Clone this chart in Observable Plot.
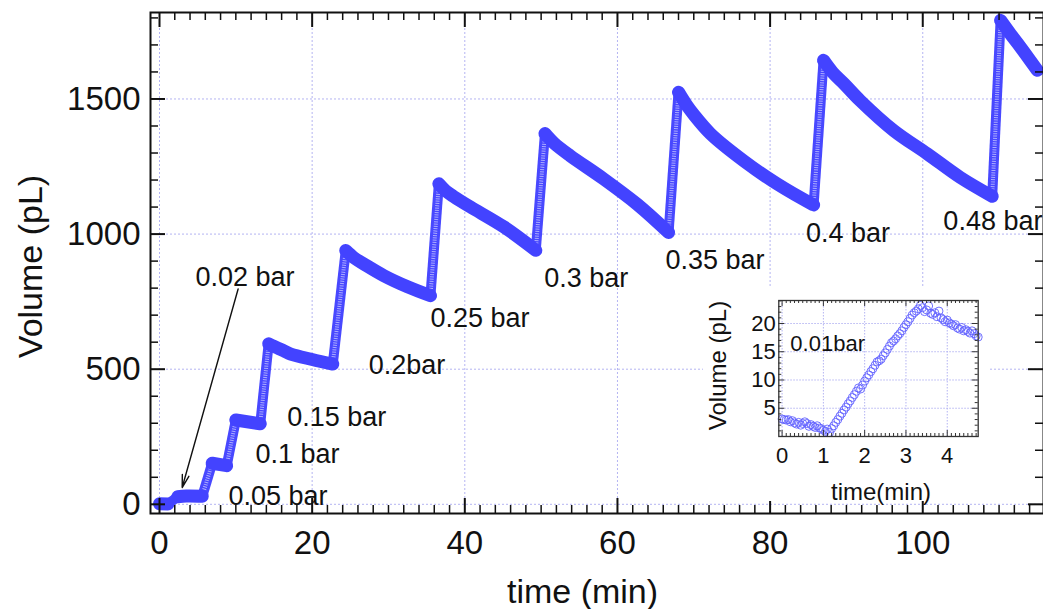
<!DOCTYPE html>
<html><head><meta charset="utf-8">
<script src="https://cdn.jsdelivr.net/npm/d3@7"></script>
<script src="https://cdn.jsdelivr.net/npm/@observablehq/plot@0.6"></script>
<style>
body{margin:0;background:#fff;}
#wrap{position:relative;width:1043px;height:609px;overflow:hidden;font-family:"Liberation Sans",Arial,sans-serif;}
#main{position:absolute;left:0;top:0;}
#inset{position:absolute;left:703px;top:288px;}
</style></head><body><div id="wrap"><div id="main"></div><div id="inset"></div></div>
<script>
// ---------- main series: one sub-array per pressure step ----------
const segTime = [
  [0, 1.1],
  [2.4, 3.5, 5.6],
  [6.9, 8.8],
  [10.0, 13.2],
  [14.3, 15.5, 16.3, 17.2, 20.0, 22.7],
  [24.4, 25.5, 26.8, 29.4, 32.5, 35.5],
  [36.6, 37.5, 38.6, 40.7, 45.1, 49.3],
  [50.5, 51.7, 53.8, 58.2, 62.6, 66.7],
  [68.0, 69.0, 70.0, 72.2, 76.5, 80.9, 85.7],
  [87.0, 88.2, 89.7, 91.8, 96.2, 100.6, 104.9, 109.1],
  [110.2, 111.5, 112.8, 115.0]
];
const segVolume = [
  [2, 1],
  [28, 31, 30],
  [152, 143],
  [312, 298],
  [594, 578, 568, 556, 536, 519],
  [939, 912, 889, 846, 805, 772],
  [1186, 1160, 1138, 1101, 1027, 940],
  [1372, 1336, 1290, 1204, 1110, 1006],
  [1525, 1480, 1442, 1371, 1272, 1186, 1108],
  [1643, 1598, 1556, 1494, 1383, 1297, 1210, 1140],
  [1791, 1740, 1692, 1606]
];

// ---------- annotations ----------
const labelText = ["0.02 bar", "0.05 bar", "0.1 bar", "0.15 bar", "0.2bar", "0.25 bar", "0.3 bar", "0.35 bar", "0.4 bar", "0.48 bar"];
const labelTime = [4.72, 9.04, 12.58, 16.73, 27.42, 35.5, 50.4, 66.3, 84.7, 102.7];
const labelVolume = [809, -2, 154, 290, 482, 657, 805, 870, 970, 1015];
const arrowFrom = [10.3, 797];
const arrowTo = [2.97, 62];

// ---------- main axes ----------
const xTickLabels = [0, 20, 40, 60, 80, 100];
const yTickLabels = [0, 500, 1000, 1500];

// ---------- inset (0.01 bar) ----------
const insetTime = [0,0.05,0.1,0.15,0.2,0.25,0.3,0.35,0.4,0.45,0.5,0.55,0.6,0.65,0.7,0.75,0.8,0.85,0.9,0.95,
  1.0,1.05,1.1,1.15,1.2,1.25,1.3,1.35,1.4,1.45,1.5,1.55,1.6,1.65,1.7,1.75,1.8,1.85,1.9,1.95,
  2.0,2.05,2.1,2.15,2.2,2.25,2.3,2.35,2.4,2.45,2.5,2.55,2.6,2.65,2.7,2.75,2.8,2.85,2.9,2.95,
  3.0,3.05,3.1,3.15,3.2,3.25,3.3,3.35,3.4,3.45,3.5,3.55,3.6,3.65,3.7,3.75,3.8,3.85,3.9,3.95,
  4.0,4.05,4.1,4.15,4.2,4.25,4.3,4.35,4.4,4.45,4.5,4.55,4.6,4.65,4.7,4.75];
const insetVolume = [3.1,3.0,2.9,3.0,2.6,2.8,2.4,2.2,2.5,2.0,2.3,2.6,2.3,1.8,2.1,1.8,1.6,1.9,1.5,1.4,
  1.1,0.9,1.3,0.7,1.4,1.9,2.5,3.0,3.6,4.1,4.7,5.2,5.8,6.3,6.9,7.4,8.0,8.6,8.4,9.1,
  9.8,10.4,10.9,11.5,12.0,12.6,13.2,13.4,13.7,14.3,14.8,15.4,16.0,16.6,16.9,17.3,17.8,18.2,18.7,19.3,
  19.8,20.3,20.9,21.5,21.9,22.2,22.6,23.2,22.8,22.1,22.4,23.1,21.8,21.6,21.9,21.2,22.2,21.0,20.7,20.3,
  20.6,20.1,19.9,19.6,19.8,19.2,19.0,19.3,18.7,18.9,18.6,18.3,18.7,18.2,17.8,17.6];
const insetXTicks = [0, 1, 2, 3, 4];
const insetYTicks = [5, 10, 15, 20];

// ================= build =================
const FONT = "'Liberation Sans', Arial, sans-serif";
const blue = "#4343ff";
const gridColor = "#b4b4f2";
const ink = "#111";

const mainRows = [];
const rises = [];
segTime.forEach((ts, i) => {
  ts.forEach((t, j) => mainRows.push({t, v: segVolume[i][j], seg: i}));
  if (i > 0) {
    const pt = segTime[i - 1], pv = segVolume[i - 1];
    rises.push({t1: pt[pt.length - 1], v1: pv[pv.length - 1], t2: ts[0], v2: segVolume[i][0]});
  }
});
const labels = labelText.map((s, i) => ({s, t: labelTime[i], v: labelVolume[i]}));

const W = 1043, H = 609, mL = 150, mT = 12, mR = 0, mB = 96;
const fw = W - mL - mR, fh = H - mT - mB;
const xMinor = d3.range(0, 116, 2).filter(d => d % 20 !== 0);
const yMinor = d3.range(0, 1801, 100).filter(d => d % 500 !== 0);

const main = Plot.plot({
  width: W, height: H, marginLeft: mL, marginTop: mT, marginRight: mR, marginBottom: mB,
  x: {domain: [-1.18, 115.82], axis: null},
  y: {domain: [-34, 1820], axis: null},
  style: {fontFamily: FONT, background: "transparent", overflow: "visible"},
  marks: [
    Plot.ruleX(xTickLabels, {x: d => d, stroke: gridColor, strokeDasharray: "2,2"}),
    Plot.ruleY(yTickLabels, {y: d => d, stroke: gridColor, strokeDasharray: "2,2"}),
    Plot.link(rises, {x1: "t1", y1: "v1", x2: "t2", y2: "v2", stroke: "#4848ff", strokeWidth: 10, strokeLinecap: "butt"}),
    Plot.link(rises, {x1: "t1", y1: "v1", x2: "t2", y2: "v2", stroke: "white", strokeOpacity: 0.55, strokeWidth: 4, strokeDasharray: "1,1.3", strokeLinecap: "butt"}),
    Plot.line(mainRows, {x: "t", y: "v", z: "seg", stroke: blue, strokeWidth: 13, curve: "catmull-rom", strokeLinecap: "round", strokeLinejoin: "round"}),
    Plot.frame({stroke: ink, strokeWidth: 2}),
    Plot.tickX(xTickLabels, {x: d => d, insetTop: fh - 15, stroke: ink, strokeWidth: 2}),
    Plot.tickX(xTickLabels, {x: d => d, insetBottom: fh - 15, stroke: ink, strokeWidth: 2}),
    Plot.tickX(xMinor, {x: d => d, insetTop: fh - 8, stroke: ink, strokeWidth: 1.5}),
    Plot.tickX(xMinor, {x: d => d, insetBottom: fh - 8, stroke: ink, strokeWidth: 1.5}),
    Plot.tickY(yTickLabels, {y: d => d, insetRight: fw - 15, stroke: ink, strokeWidth: 2}),
    Plot.tickY(yTickLabels, {y: d => d, insetLeft: fw - 15, stroke: ink, strokeWidth: 2}),
    Plot.tickY(yMinor, {y: d => d, insetRight: fw - 8, stroke: ink, strokeWidth: 1.5}),
    Plot.tickY(yMinor, {y: d => d, insetLeft: fw - 8, stroke: ink, strokeWidth: 1.5}),
    Plot.text(xTickLabels, {x: d => d, text: d => String(d), frameAnchor: "bottom", dy: 17, lineAnchor: "top", fontSize: 33, fill: ink}),
    Plot.text(yTickLabels, {y: d => d, text: d => String(d), frameAnchor: "left", dx: -10, textAnchor: "end", fontSize: 33, fill: ink}),
    Plot.text(labels, {x: "t", y: "v", text: "s", textAnchor: "start", lineAnchor: "bottom", fontSize: 27, fill: ink}),
    Plot.arrow([{a: arrowFrom, b: arrowTo}], {x1: d => d.a[0], y1: d => d.a[1], x2: d => d.b[0], y2: d => d.b[1], stroke: ink, strokeWidth: 1.4, headLength: 14, headAngle: 30}),
    Plot.text(["time (min)"], {text: d => d, frameAnchor: "bottom", dx: -14.5, dy: 89, lineAnchor: "bottom", fontSize: 34, fill: ink}),
    Plot.text(["Volume (pL)"], {text: d => d, frameAnchor: "left", rotate: -90, dx: 41.7 - mL, dy: 3.5, lineAnchor: "bottom", textAnchor: "middle", fontSize: 34, fill: ink})
  ]
});
document.getElementById("main").appendChild(main);

// ---------- inset ----------
const iW = 285, iH = 213, imL = 75.3, imT = 12, ifw = 199.4, ifh = 136;
const imR = iW - imL - ifw, imB = iH - imT - ifh;
const insetRows = insetTime.map((t, i) => ({t, v: insetVolume[i]}));
const ixMinor = d3.range(0, 48).map(d => d / 10).filter(d => Math.abs(d - Math.round(d)) > 1e-6);
const iyMinor = d3.range(1, 25).filter(d => d % 5 !== 0);
const iink = "#333";
const inset = Plot.plot({
  width: iW, height: iH, marginLeft: imL, marginTop: imT, marginRight: imR, marginBottom: imB,
  x: {domain: [-0.08, 4.75], axis: null},
  y: {domain: [0, 24.07], axis: null},
  style: {fontFamily: FONT, background: "white", overflow: "visible"},
  marks: [
    Plot.ruleX(insetXTicks, {x: d => d, stroke: gridColor, strokeDasharray: "1.5,1.5"}),
    Plot.ruleY(insetYTicks, {y: d => d, stroke: gridColor, strokeDasharray: "1.5,1.5"}),
    Plot.dot(insetRows, {x: "t", y: "v", r: 4, stroke: "#6262ff", strokeWidth: 0.9, fill: "none"}),
    Plot.frame({stroke: iink, strokeWidth: 1.3}),
    Plot.tickX(insetXTicks, {x: d => d, insetTop: ifh - 6, stroke: iink}),
    Plot.tickX(insetXTicks, {x: d => d, insetBottom: ifh - 6, stroke: iink}),
    Plot.tickX(ixMinor, {x: d => d, insetTop: ifh - 3, stroke: iink}),
    Plot.tickX(ixMinor, {x: d => d, insetBottom: ifh - 3, stroke: iink}),
    Plot.tickY(insetYTicks, {y: d => d, insetRight: ifw - 6, stroke: iink}),
    Plot.tickY(insetYTicks, {y: d => d, insetLeft: ifw - 6, stroke: iink}),
    Plot.tickY(iyMinor, {y: d => d, insetRight: ifw - 3, stroke: iink}),
    Plot.tickY(iyMinor, {y: d => d, insetLeft: ifw - 3, stroke: iink}),
    Plot.text(insetXTicks, {x: d => d, text: d => String(d), frameAnchor: "bottom", dy: 11, lineAnchor: "top", fontSize: 22, fill: ink}),
    Plot.text(insetYTicks, {y: d => d, text: d => String(d), frameAnchor: "left", dx: -3, textAnchor: "end", fontSize: 22, fill: ink}),
    Plot.text(["0.01bar"], {text: d => d, x: 0.2, y: 15.2, textAnchor: "start", lineAnchor: "bottom", fontSize: 22, fill: ink}),
    Plot.text(["time(min)"], {text: d => d, frameAnchor: "bottom", dx: 2.5, dy: 63, lineAnchor: "bottom", fontSize: 24, fill: ink}),
    Plot.text(["Volume (pL)"], {text: d => d, frameAnchor: "left", rotate: -90, dx: 22 - imL, dy: -3, lineAnchor: "bottom", textAnchor: "middle", fontSize: 24, fill: ink})
  ]
});
document.getElementById("inset").appendChild(inset);
</script></body></html>
